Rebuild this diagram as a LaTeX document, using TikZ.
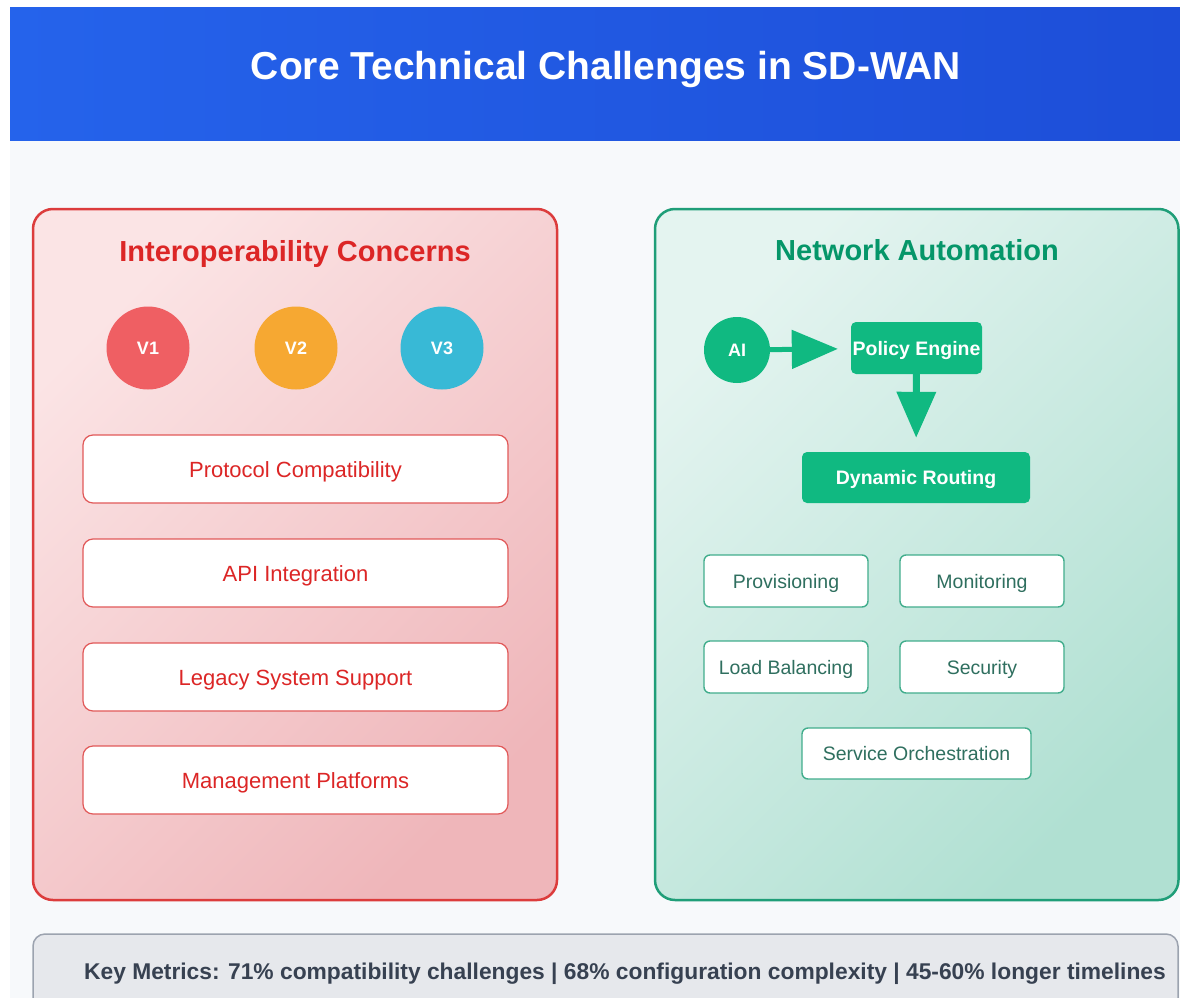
\documentclass[tikz,border=0pt]{standalone}
\usepackage{fontspec}
\setmainfont{Liberation Sans}
\usetikzlibrary{arrows.meta}
\definecolor{hdrA}{HTML}{2563EB}
\definecolor{hdrB}{HTML}{1D4ED8}
\definecolor{pagebg}{HTML}{F7F9FB}
\definecolor{redline}{HTML}{DC3C3C}
\definecolor{redtext}{HTML}{DC2626}
\definecolor{redlight}{HTML}{FBE4E5}
\definecolor{reddark}{HTML}{EFB6BA}
\definecolor{greenline}{HTML}{1F9E78}
\definecolor{greentext}{HTML}{059669}
\definecolor{greenlight}{HTML}{E4F4F0}
\definecolor{greendark}{HTML}{B0E0D2}
\definecolor{greenfill}{HTML}{10B981}
\definecolor{smalltext}{HTML}{2F6F5F}
\definecolor{vone}{HTML}{EF5F63}
\definecolor{vtwo}{HTML}{F6A832}
\definecolor{vthree}{HTML}{38B9D6}
\definecolor{barfill}{HTML}{E6E8EC}
\definecolor{barline}{HTML}{9CA3AF}
\definecolor{bartext}{HTML}{374151}
\tikzset{
  panel/.style={rounded corners=20pt, line width=2.5pt},
  redbox/.style={draw=redline!85, line width=1.2pt, fill=white, rounded corners=10pt,
    minimum width=425pt, minimum height=68pt, inner sep=0pt, text=redtext,
    text height=16pt, text depth=0pt,
    font=\fontsize{22}{26}\selectfont},
  vcirc/.style={circle, minimum size=83pt, inner sep=0pt, text=white,
    text height=13pt, text depth=0pt,
    font=\bfseries\fontsize{18}{22}\selectfont},
  greenbox/.style={fill=greenfill, rounded corners=5pt, inner sep=0pt, text=white,
    text height=14pt, text depth=0pt,
    font=\bfseries\fontsize{19.5}{23}\selectfont},
  smallbox/.style={draw=greenline!85, line width=1.4pt, fill=white, rounded corners=6pt,
    minimum width=164pt, minimum height=52pt, inner sep=0pt, text=smalltext,
    text height=14pt, text depth=0pt,
    font=\fontsize{19.5}{23}\selectfont},
  bigarrow/.style={draw=greenfill, -{Triangle[length=46pt,width=38pt]}}
}
\begin{document}
\begin{tikzpicture}[x=1pt,y=-1pt]
\useasboundingbox (0,0) rectangle (1180,998);
\clip (0,0) rectangle (1180,998);
\fill[white] (0,0) rectangle (1180,998);
% page background and header
\fill[pagebg] (10,140) rectangle (1180,998);
\shade[left color=hdrA, right color=hdrB] (10,8) rectangle (1180,140);
\node[text=white, text height=28pt, text depth=0pt, inner sep=0pt,
  font=\bfseries\fontsize{39}{46}\selectfont] (title) at (606,66) {Core Technical Challenges in SD-WAN};
% left panel
\shade[panel, top color=redlight, bottom color=reddark, shading angle=45] (33,209) rectangle (557,900);
\draw[panel, draw=redline] (33,209) rectangle (557,900);
\node[text=redtext, text height=21pt, text depth=0pt, inner sep=0pt,
  font=\bfseries\fontsize{29}{34}\selectfont] (ltitle) at (295,251) {Interoperability Concerns};
\node[vcirc, fill=vone] (v1) at (148,348) {V1};
\node[vcirc, fill=vtwo] (v2) at (296,348) {V2};
\node[vcirc, fill=vthree] (v3) at (442,348) {V3};
\node[redbox] (b1) at (295.5,469) {Protocol Compatibility};
\node[redbox] (b2) at (295.5,573) {API Integration};
\node[redbox] (b3) at (295.5,677) {Legacy System Support};
\node[redbox] (b4) at (295.5,780) {Management Platforms};
% right panel
\shade[panel, top color=greenlight, bottom color=greendark, shading angle=45] (655,209) rectangle (1178.5,900);
\draw[panel, draw=greenline] (655,209) rectangle (1178.5,900);
\node[text=greentext, text height=21pt, text depth=0pt, inner sep=0pt,
  font=\bfseries\fontsize{29}{34}\selectfont] (rtitle) at (917,250) {Network Automation};
\node[circle, fill=greenfill, minimum size=66pt, inner sep=0pt, text=white,
  text height=13pt, text depth=0pt,
  font=\bfseries\fontsize{18}{22}\selectfont] (ai) at (737,350) {AI};
\node[greenbox, minimum width=131pt, minimum height=52pt] (pe) at (916.5,348) {Policy Engine};
\node[greenbox, minimum width=228pt, minimum height=51pt] (dr) at (916,477.5) {Dynamic Routing};
\draw[bigarrow, line width=5pt, shorten >=13pt] (ai) -- (pe);
\draw[bigarrow, line width=7pt, shorten >=14pt] (pe) -- (dr);
\node[smallbox] (prov) at (786,581) {Provisioning};
\node[smallbox] (mon) at (982,581) {Monitoring};
\node[smallbox] (lb) at (786,667) {Load Balancing};
\node[smallbox] (sec) at (982,667) {Security};
\node[smallbox, minimum width=229pt, minimum height=51pt] (so) at (916.5,753.5) {Service Orchestration};
% bottom bar
\draw[fill=barfill, draw=barline, line width=1.5pt, rounded corners=12pt] (33,934) rectangle (1178,1012);
\node[text=bartext, text height=16.5pt, text depth=0pt, inner sep=0pt,
  font=\bfseries\fontsize{22.8}{27}\selectfont] (metrics) at (625,971)
  {Key Metrics: 71\% compatibility challenges | 68\% configuration complexity | 45-60\% longer timelines};
\end{tikzpicture}
\end{document}
